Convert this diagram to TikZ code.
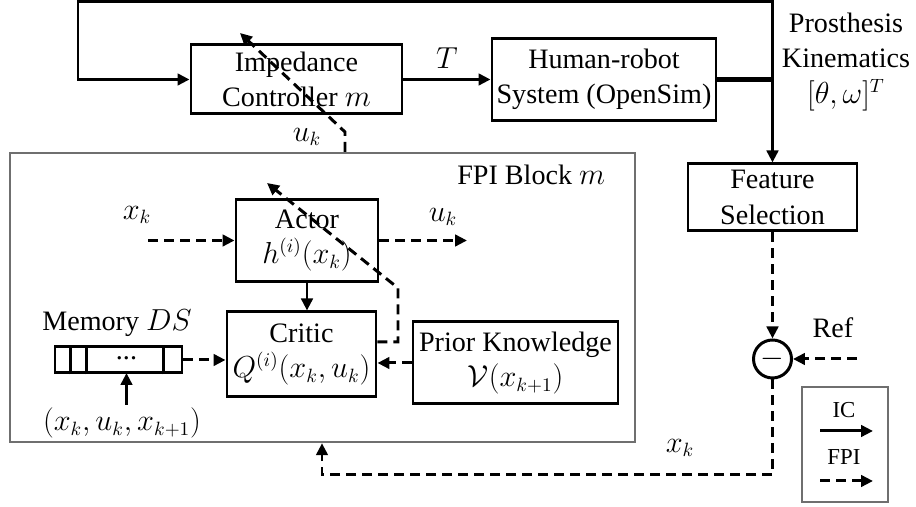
\documentclass[tikz,border=0pt]{standalone}
\usepackage{fontspec}
\setmainfont{Liberation Serif}
\usepackage{amsmath,amssymb}
\usetikzlibrary{arrows.meta, positioning, calc}
\definecolor{framegray}{HTML}{6F6F6F}

\begin{document}
\begin{tikzpicture}[>={Triangle[length=2.4mm, width=2.3mm]}, line width=1.7pt,
  font=\fontsize{16}{20}\selectfont,
  block/.style={draw, line width=1.7pt, align=center, inner sep=0pt},
  fpiline/.style={dash pattern=on 2mm off 1.2mm, ->},
  icline/.style={->}]

\useasboundingbox (0,0) rectangle (18.32,10.14);

% ========== Impedance control loop ==========
\node[block, minimum width=4.22cm, minimum height=1.38cm] (imp) at (5.93,8.55)
  {Impedance\\Controller $m$};
\node[block, minimum width=4.48cm, minimum height=1.64cm] (hr) at (12.08,8.55)
  {Human-robot\\System (OpenSim)};
\node[block, minimum width=3.38cm, minimum height=1.34cm] (feat) at (15.45,6.19)
  {Feature\\Selection};
\node[align=center] (kin) at (16.92,8.9) {Prosthesis\\Kinematics\\$[\theta,\omega]^T$};

\coordinate (split) at (15.45,8.55);
\coordinate (topright) at (15.45,10.11);
\coordinate (topleft) at (1.56,10.11);

\draw[icline] (imp) -- node[above=2pt] {$T$} (hr);
\draw[line width=2.8pt] (hr.east) -- (split);
\draw[icline] (split) -- (topright) -- (topleft) |- (imp.west);
\draw[icline] (split) -- (feat.north);

% ========== FPI block ==========
\node[draw=framegray, line width=1.4pt, minimum width=12.5cm, minimum height=5.78cm]
  (fpi) at (6.45,4.19) {};
\node[anchor=east] (fpilabel) at (12.25,6.64) {FPI Block $m$};

\node[block, minimum width=2.84cm, minimum height=1.64cm] (actor) at (6.14,5.33)
  {Actor\\$h^{(i)}(x_k)$};
\node[block, minimum width=2.98cm, minimum height=1.70cm] (critic) at (6.03,3.05)
  {Critic\\$Q^{(i)}(x_k,u_k)$};
\node[block, minimum width=4.10cm, minimum height=1.64cm] (prior) at (10.31,2.88)
  {Prior Knowledge\\$\mathcal{V}(x_{k+1})$};

% actor input and output
\coordinate (xin) at (2.96,5.33);
\coordinate (uout) at (9.34,5.33);
\node (xinlabel) at (2.74,5.84) {$x_k$};
\node (uoutlabel) at (8.86,5.80) {$u_k$};
\draw[fpiline] (xin) -- (actor.west);
\draw[fpiline] (actor.east) -- (uout);
\draw[icline] (actor.south) -- (actor.south |- critic.north);

% memory buffer
\node (memlabel) at (2.34,3.68) {Memory $DS$};
\node[draw, line width=1.7pt, minimum width=2.54cm, minimum height=0.52cm] (mem) at (2.37,2.94) {};
\foreach \dx in {0.34,0.66,2.20}
  \draw ([xshift=\dx cm]mem.south west) -- ([xshift=\dx cm]mem.north west);
\node (dots) at (2.53,2.98) {...};
\node (tuple) at (2.44,1.68) {$(x_k,u_k,x_{k+1})$};
\draw[icline] (2.53,2.04) -- (2.53,2.68);
\draw[fpiline] (mem.east) -- (mem.east -| critic.west);
\draw[fpiline] (prior.west) -- (prior.west -| critic.east);

% critic updates the actor
\coordinate (qbend) at (7.96,4.38);
\coordinate (qtip) at (5.34,6.48);
\draw[fpiline] ([yshift=0.25cm]critic.east) -| (qbend) -- (qtip);

% policy sent to the impedance controller
\coordinate (ukbend) at (6.90,7.50);
\coordinate (uktip) at (4.80,9.48);
\node (uklabel) at (6.14,7.40) {$u_k$};
\draw[fpiline] (ukbend |- fpi.north) -- (ukbend) -- (uktip);

% ========== Error feedback ==========
\node[draw, circle, line width=1.7pt, minimum size=0.76cm, inner sep=0pt] (sum) at (15.45,2.96) {$-$};
\node (reflabel) at (16.66,3.58) {Ref};
\coordinate (refin) at (17.14,2.96);
\draw[fpiline] (feat.south) -- (sum.north);
\draw[fpiline] (refin) -- (sum.east);

\coordinate (fb) at (6.44,0.64);
\node (xfblabel) at (13.6,1.18) {$x_k$};
\draw[fpiline] (sum.south) |- (fb) -- (fb |- fpi.south);

% ========== Legend ==========
\node[draw=framegray, line width=1.4pt, minimum width=1.72cm, minimum height=2.30cm] (legend) at (16.90,1.25) {};
\node[font=\fontsize{13}{15}\selectfont] (iclabel) at (16.88,1.94) {IC};
\node[font=\fontsize{13}{15}\selectfont] (fpilegend) at (16.88,1.00) {FPI};
\coordinate (ica) at (16.40,1.52);
\coordinate (icb) at (17.46,1.52);
\coordinate (fpia) at (16.40,0.52);
\coordinate (fpib) at (17.46,0.52);
\draw[icline] (ica) -- (icb);
\draw[fpiline] (fpia) -- (fpib);

\end{tikzpicture}
\end{document}
